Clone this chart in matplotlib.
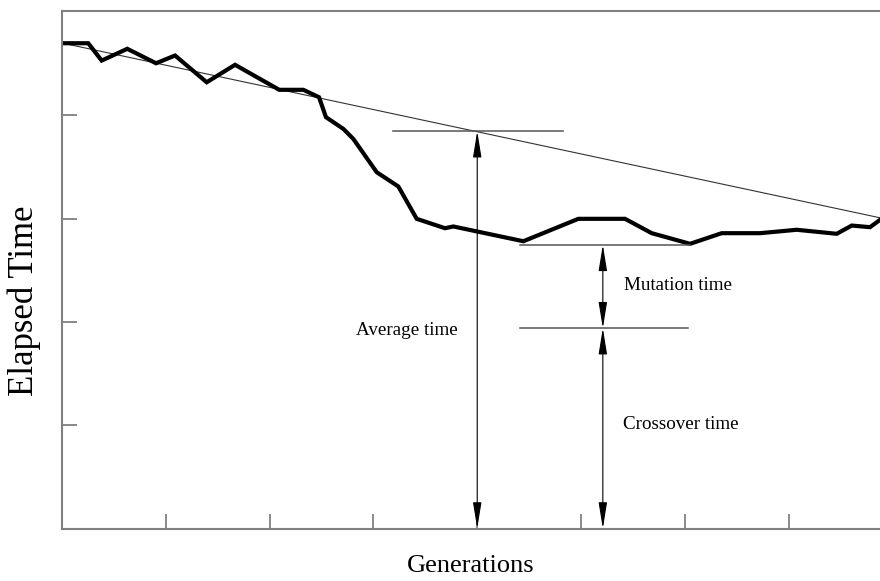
import numpy as np
import matplotlib.pyplot as plt

plt.rcParams['font.family'] = ['Liberation Serif', 'DejaVu Serif']

# elapsed time per generation (arbitrary units, one x unit = one tick)
gen = [0.0, 0.253, 0.382, 0.629, 0.906, 1.089, 1.394, 1.667, 2.093, 2.325,
       2.476, 2.543, 2.710, 2.806, 3.032, 3.240, 3.417, 3.690, 3.770, 4.444,
       4.974, 5.424, 5.681, 6.050, 6.355, 6.724, 7.078, 7.463, 7.608, 7.784, 7.880]
elapsed = [4.698, 4.698, 4.530, 4.644, 4.504, 4.579, 4.320, 4.489, 4.247, 4.247,
           4.175, 3.982, 3.869, 3.772, 3.449, 3.311, 2.998, 2.907, 2.924, 2.781,
           2.998, 2.998, 2.859, 2.756, 2.859, 2.859, 2.892, 2.853, 2.933, 2.917, 2.988]

# straight trend from first to last generation
trend_x = [0.0, 7.88]
trend_y = [4.70, 3.008]

avg_x = 4.0          # where the average time is measured
avg_time = 3.846
split_x = 5.21       # crossover / mutation split
mutation_top = 2.746
crossover_top = 1.939

fig = plt.figure(figsize=(8.8, 5.81), dpi=100)
ax = fig.add_axes([62 / 880, 52.5 / 581, 818 / 880, 517.5 / 581])
ax.set_xlim(0, 7.88)
ax.set_ylim(0, 5.01)

ax.plot(trend_x, trend_y, color='#333333', lw=0.8)
ax.plot(gen, elapsed, color='black', lw=3.0, solid_joinstyle='miter')

# reference levels
ax.plot([3.19, 4.83], [avg_time, avg_time], color='#555555', lw=1.1)
ax.plot([4.41, 6.05], [mutation_top, mutation_top], color='#555555', lw=1.1)
ax.plot([4.41, 6.03], [crossover_top, crossover_top], color='#555555', lw=1.1)

arrow = dict(arrowstyle='<|-|>,head_length=1.6,head_width=0.26', color='black',
             lw=0.8, shrinkA=0, shrinkB=0, mutation_scale=10)
ax.annotate('', xy=(avg_x, 0), xytext=(avg_x, avg_time), arrowprops=arrow)
ax.annotate('', xy=(split_x, crossover_top), xytext=(split_x, mutation_top), arrowprops=arrow)
ax.annotate('', xy=(split_x, 0), xytext=(split_x, crossover_top), arrowprops=arrow)

ax.text(3.32, 1.92, 'Average time', fontsize=13.7, ha='center', va='center')
ax.text(5.935, 2.35, 'Mutation time', fontsize=13.7, ha='center', va='center')
ax.text(5.965, 1.01, 'Crossover time', fontsize=13.7, ha='center', va='center')

ax.set_xticks(np.arange(1, 8))
ax.set_yticks(np.arange(1, 5))
ax.set_xticklabels([])
ax.set_yticklabels([])
ax.tick_params(direction='in', length=11, width=1.3, color='#808080')
for side in ['left', 'bottom', 'top']:
    ax.spines[side].set_color('#808080')
    ax.spines[side].set_linewidth(1.5)
ax.spines['right'].set_visible(False)

fig.text(471 / 880, 1 - 566 / 581, 'Generations', fontsize=19, ha='center', va='center')
fig.text(24 / 880, 1 - 301 / 581, 'Elapsed Time', fontsize=25, rotation=90,
         ha='center', va='center')

fig.savefig('out.png', dpi=100)
